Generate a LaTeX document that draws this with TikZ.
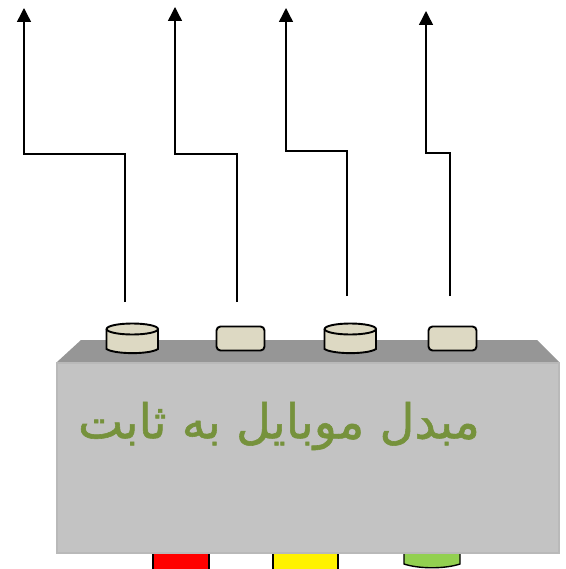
\documentclass[tikz,border=0pt]{standalone}
\usepackage{fontspec}
\usetikzlibrary{arrows.meta}
\TeXXeTstate=1
\newfontfamily\arabicfont[Script=Arabic,FakeBold=1.2]{DejaVu Sans}
\definecolor{plugfill}{RGB}{221,217,195}
\definecolor{boxfront}{RGB}{195,195,195}
\definecolor{boxedge}{RGB}{185,185,185}
\definecolor{boxtop}{RGB}{150,150,150}
\definecolor{labelgreen}{RGB}{118,146,60}
\definecolor{jackgreen}{RGB}{146,208,80}
\tikzset{
  wire/.style={draw=black,line width=1.4pt,-{Triangle[length=14pt,width=14pt]}},
  plugbox/.style={draw=black,line width=1.9pt,fill=plugfill,rounded corners=4pt,minimum width=48pt,minimum height=24pt,inner sep=0pt},
  plugcyl/.style={draw=black,line width=1.9pt,fill=plugfill},
  jack/.style={draw=black,line width=1.4pt}
}
\begin{document}
\begin{tikzpicture}[x=1pt,y=1pt,yscale=-1,xscale=1]
\useasboundingbox (0,0) rectangle (565,569);

%Bottom jacks
\draw [jack,fill=red] (153,545) -- (209,545) -- (209,570) -- (153,570) -- cycle ;
\draw [jack,fill=yellow] (273,545) -- (338,545) -- (338,570) -- (273,570) -- cycle ;
\draw [jack,fill=jackgreen] (404,545) -- (460,545) -- (460,564) .. controls (445,569) and (419,569) .. (404,564) -- cycle ;

%Box
\draw [draw=none,fill=boxtop] (57,362) -- (81,340) -- (537,340) -- (559,362) -- cycle ;
\draw [draw=boxedge,line width=1.5pt,fill=boxfront] (57,363) -- (559,363) -- (559,553) -- (57,553) -- cycle ;

%Plugs
\draw [plugcyl] (106.5,329) -- (106.5,349) .. controls (115,354.5) and (150,354.5) .. (158,349) -- (158,329) ;
\draw [plugcyl] (132.3,329) ellipse (25.7 and 5.5) ;
\draw [plugcyl] (324.5,329) -- (324.5,349) .. controls (333,354.5) and (368,354.5) .. (376,349) -- (376,329) ;
\draw [plugcyl] (350.3,329) ellipse (25.7 and 5.5) ;
\node [plugbox] (plugb) at (240.5,338.5) {};
\node [plugbox] (plugd) at (452.5,338.5) {};

%Wires
\coordinate (starta) at (125,302);
\coordinate (enda) at (24,8);
\coordinate (startb) at (237,302);
\coordinate (endb) at (175,7);
\coordinate (startc) at (347,296);
\coordinate (endc) at (286,8);
\coordinate (startd) at (450,296);
\coordinate (endd) at (426,11);
\draw [wire] (starta) -- (125,154) -- (24,154) -- (enda) ;
\draw [wire] (startb) -- (237,154) -- (175,154) -- (endb) ;
\draw [wire] (startc) -- (347,151) -- (286,151) -- (endc) ;
\draw [wire] (startd) -- (450,153) -- (426,153) -- (endd) ;

% Text Node
\node [text=labelgreen,font=\arabicfont\fontsize{48}{54}\selectfont] (caption) at (279,426) {\beginR مبدل موبایل به ثابت\endR};

\end{tikzpicture}
\end{document}
